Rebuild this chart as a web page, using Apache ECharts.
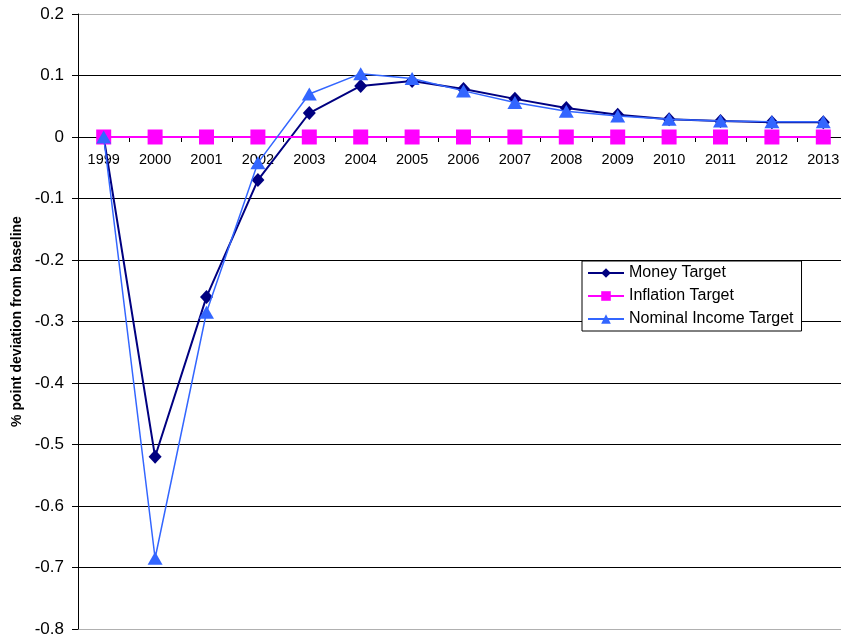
<!DOCTYPE html>
<html>
<head>
<meta charset="utf-8">
<script src="https://cdn.jsdelivr.net/npm/echarts@6/dist/echarts.min.js"></script>
<style>
html,body{margin:0;padding:0;background:#fff;}
#chart{width:841px;height:642px;}
</style>
</head>
<body>
<div id="chart"></div>
<script>
var years = ['1999','2000','2001','2002','2003','2004','2005','2006','2007','2008','2009','2010','2011','2012','2013'];
var moneyTarget = [0, -0.52, -0.26, -0.07, 0.039, 0.083, 0.091, 0.078, 0.062, 0.047, 0.036, 0.029, 0.026, 0.024, 0.024];
var inflationTarget = [0, 0, 0, 0, 0, 0, 0, 0, 0, 0, 0, 0, 0, 0, 0];
var nominalIncomeTarget = [0, -0.685, -0.285, -0.042, 0.07, 0.103, 0.095, 0.075, 0.056, 0.042, 0.034, 0.029, 0.026, 0.025, 0.025];
var seriesNames = ['Money Target', 'Inflation Target', 'Nominal Income Target'];
var yAxisTitle = '% point deviation from baseline';
var yMin = -0.8, yMax = 0.2, yStep = 0.1;

var chart = echarts.init(document.getElementById('chart'));
var font = 'Liberation Sans, Arial, sans-serif';
var gridTop = 14, gridBottom = 13, chartH = 642;
var plotH = chartH - gridTop - gridBottom;
// place the category axis on the zero line
var zeroOffset = -plotH * (0 - yMin) / (yMax - yMin);
var gridColors = ['#b0b0b0','#000','#000','#000','#000','#000','#000','#000','#000','#000','#b0b0b0'];
chart.setOption({
  animation: false,
  backgroundColor: '#fff',
  grid: {left: 78, top: gridTop, bottom: gridBottom, right: -8, containLabel: false, outerBoundsMode: 'none'},
  legend: {
    orient: 'vertical', left: 582, top: 261,
    data: seriesNames,
    backgroundColor: '#fff', borderColor: '#000', borderWidth: 1,
    padding: [4, 8, 4, 5], itemGap: 7, itemWidth: 36, itemHeight: 12,
    textStyle: {fontFamily: font, fontSize: 16, color: '#000'}
  },
  xAxis: {
    type: 'category', data: years, boundaryGap: true, position: 'bottom', offset: zeroOffset,
    axisLine: {onZero: false, lineStyle: {color: '#000', width: 1}},
    axisTick: {show: true, length: 5, inside: false, lineStyle: {color: '#000'}},
    axisLabel: {fontFamily: font, fontSize: 14.5, color: '#000', margin: 15, interval: 0}
  },
  yAxis: {
    type: 'value', min: yMin, max: yMax, interval: yStep,
    name: yAxisTitle, nameLocation: 'middle', nameGap: 54,
    nameTextStyle: {fontFamily: font, fontSize: 14, fontWeight: 'bold', color: '#000'},
    axisLine: {show: true, lineStyle: {color: '#000'}},
    axisTick: {show: true, length: 6, lineStyle: {color: '#000'}},
    axisLabel: {fontFamily: font, fontSize: 17, color: '#000', margin: 14,
      formatter: function (v) { return Math.abs(v) < 1e-9 ? '0' : (Math.round(v * 10) / 10).toFixed(1); }},
    splitLine: {show: true, lineStyle: {color: gridColors, width: 1}}
  },
  series: [
    {name: seriesNames[0], type: 'line', data: moneyTarget, symbol: 'diamond', symbolSize: [13, 14],
     itemStyle: {color: '#000080'}, lineStyle: {color: '#000080', width: 2}, z: 3},
    {name: seriesNames[1], type: 'line', data: inflationTarget, symbol: 'rect', symbolSize: 15,
     itemStyle: {color: '#FF00FF'}, lineStyle: {color: '#FF00FF', width: 2}, z: 4},
    {name: seriesNames[2], type: 'line', data: nominalIncomeTarget, symbol: 'triangle', symbolSize: [15, 13],
     itemStyle: {color: '#3366FF'}, lineStyle: {color: '#3366FF', width: 1.5}, z: 5}
  ]
});
</script>
</body>
</html>
